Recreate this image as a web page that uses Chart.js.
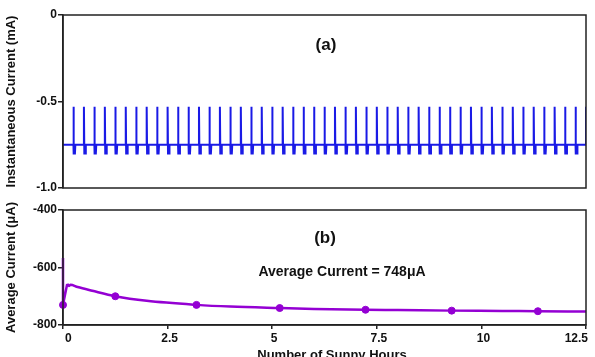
<!DOCTYPE html>
<html>
<head>
<meta charset="utf-8">
<script src="https://cdn.jsdelivr.net/npm/chart.js@4/dist/chart.umd.min.js"></script>
<style>
  html, body { margin: 0; padding: 0; background: #fff; overflow: hidden; }
  body { width: 595px; height: 357px; position: relative; }
  canvas { position: absolute; left: 0; }
  #graficaA { top: 0; }
  #graficaB { top: 200px; }
</style>
</head>
<body>
<canvas id="graficaA" width="595" height="200"></canvas>
<canvas id="graficaB" width="595" height="170"></canvas>
<script>
// (a) instantaneous current, mA
const spikeHours = [0.25, 0.5, 0.75, 1, 1.25, 1.5, 1.75, 2, 2.25, 2.5,
  2.75, 3, 3.25, 3.5, 3.75, 4, 4.25, 4.5, 4.75, 5,
  5.25, 5.5, 5.75, 6, 6.25, 6.5, 6.75, 7, 7.25, 7.5,
  7.75, 8, 8.25, 8.5, 8.75, 9, 9.25, 9.5, 9.75, 10,
  10.25, 10.5, 10.75, 11, 11.25, 11.5, 11.75, 12, 12.25, 12.5];
const baseCurrent = -0.75;
const spikeTop = -0.53;
const spikeBottom = -0.80;

// (b) average current, µA
const startHours = [0, 0, 0.1];
const startCurrent = [-567, -730, -657];
const avgHours = [0.1, 0.14, 0.18, 0.35, 0.7, 1.25, 2, 3.19, 4, 5.18, 6, 7.23, 8, 9.29, 10.5, 11.35, 12.5];
const avgCurrent = [-657, -664, -660, -668, -681, -700, -716, -730, -736, -741, -744, -747, -748, -750, -751, -752, -753];
const markerHours = [0, 1.25, 3.19, 5.18, 7.23, 9.29, 11.35];
const markerCurrent = [-730, -700, -730, -741, -747, -750, -752];

const xTicks = [0, 2.5, 5, 7.5, 10, 12.5];
const yTicksA = [0, -0.5, -1.0];
const yLabelsA = ["0", "-0.5", "-1.0"];
const yTicksB = [-400, -600, -800];

const X_MIN = 0, X_MAX = 12.5;
const FONT = "'Liberation Sans', Arial, sans-serif";
const DARK = "#222";
const BLUE = "#1a1ae6";
const PURPLE = "#9400d3";

// build the spike trace from the readings
const traceA = [{ x: 0, y: baseCurrent }];
spikeHours.forEach(t => {
    traceA.push({ x: t, y: baseCurrent });
    traceA.push({ x: t, y: spikeTop });
    traceA.push({ x: t + 0.01, y: spikeBottom });
    traceA.push({ x: t + 0.035, y: spikeBottom });
    traceA.push({ x: t + 0.045, y: baseCurrent });
});

const pares = (xs, ys) => xs.map((x, i) => ({ x: x, y: ys[i] }));

// frame + panel text
function marco(textos) {
    return {
        id: "marco",
        afterDraw(chart) {
            const { ctx, chartArea: a } = chart;
            ctx.save();
            ctx.strokeStyle = DARK;
            ctx.lineWidth = 1.5;
            ctx.strokeRect(a.left, a.top, a.right - a.left, a.bottom - a.top);
            ctx.fillStyle = "#111";
            ctx.textAlign = "center";
            ctx.textBaseline = "middle";
            textos.forEach(t => {
                ctx.font = "bold " + t.size + "px " + FONT;
                ctx.fillText(t.text, t.x, t.y);
            });
            ctx.restore();
        }
    };
}

function ejeY(ticks, labels, titulo) {
    return {
        min: ticks[ticks.length - 1],
        max: ticks[0],
        afterBuildTicks: s => { s.ticks = ticks.map(v => ({ value: v })); },
        afterFit: s => { s.width = 63; },
        border: { display: true, color: DARK, width: 1.5 },
        grid: { drawOnChartArea: false, drawTicks: true, tickLength: 5, color: DARK, lineWidth: 1.5 },
        ticks: {
            color: "#111",
            padding: 1,
            font: { family: FONT, size: 12, weight: "bold" },
            callback: (v, i) => labels ? labels[i] : String(v)
        },
        title: {
            display: true,
            text: titulo,
            color: "#111",
            padding: { top: 4, bottom: 0 },
            font: { family: FONT, size: 13, weight: "bold" }
        }
    };
}

new Chart(document.getElementById("graficaA"), {
    type: "line",
    data: {
        datasets: [{
            data: traceA,
            borderColor: BLUE,
            borderWidth: 2,
            pointRadius: 0,
            tension: 0
        }]
    },
    options: {
        responsive: false,
        animation: false,
        layout: { padding: { top: 15, bottom: 12, right: 9, left: 0 } },
        plugins: { legend: { display: false }, tooltip: { enabled: false } },
        scales: {
            x: { type: "linear", min: X_MIN, max: X_MAX, display: false },
            y: ejeY(yTicksA, yLabelsA, "Instantaneous Current (mA)")
        }
    },
    plugins: [marco([{ text: "(a)", x: 326, y: 45, size: 17 }])]
});

new Chart(document.getElementById("graficaB"), {
    type: "line",
    data: {
        datasets: [{
            data: pares(startHours, startCurrent),
            borderColor: PURPLE,
            borderWidth: 2.5,
            pointRadius: 0,
            tension: 0
        }, {
            data: pares(avgHours, avgCurrent),
            borderColor: PURPLE,
            borderWidth: 2.5,
            pointRadius: 0,
            cubicInterpolationMode: "monotone"
        }, {
            data: pares(markerHours, markerCurrent),
            showLine: false,
            pointRadius: 3.5,
            pointBackgroundColor: PURPLE,
            pointBorderColor: PURPLE
        }]
    },
    options: {
        responsive: false,
        animation: false,
        clip: 4,
        layout: { padding: { top: 10, bottom: 0, right: 9, left: 0 } },
        plugins: { legend: { display: false }, tooltip: { enabled: false } },
        scales: {
            x: {
                type: "linear",
                min: X_MIN,
                max: X_MAX,
                afterBuildTicks: s => { s.ticks = xTicks.map(v => ({ value: v })); },
                afterFit: s => { s.height = 45; s.paddingRight = 0; s.paddingLeft = 0; },
                border: { display: true, color: DARK, width: 1.5 },
                grid: { drawOnChartArea: false, drawTicks: true, tickLength: 4, color: DARK, lineWidth: 1.5 },
                ticks: {
                    color: "#111",
                    padding: 2,
                    maxRotation: 0,
                    align: "inner",
                    labelOffset: 2,
                    font: { family: FONT, size: 12, weight: "bold" },
                    callback: v => String(v)
                },
                title: { display: false }
            },
            y: ejeY(yTicksB, null, "Average Current (μA)")
        }
    },
    plugins: [marco([
        { text: "(b)", x: 325, y: 38, size: 17 },
        { text: "Average Current = 748μA", x: 342, y: 72, size: 14 },
        { text: "Number of Sunny Hours", x: 332, y: 155, size: 13 }
    ])]
});
</script>
</body>
</html>
